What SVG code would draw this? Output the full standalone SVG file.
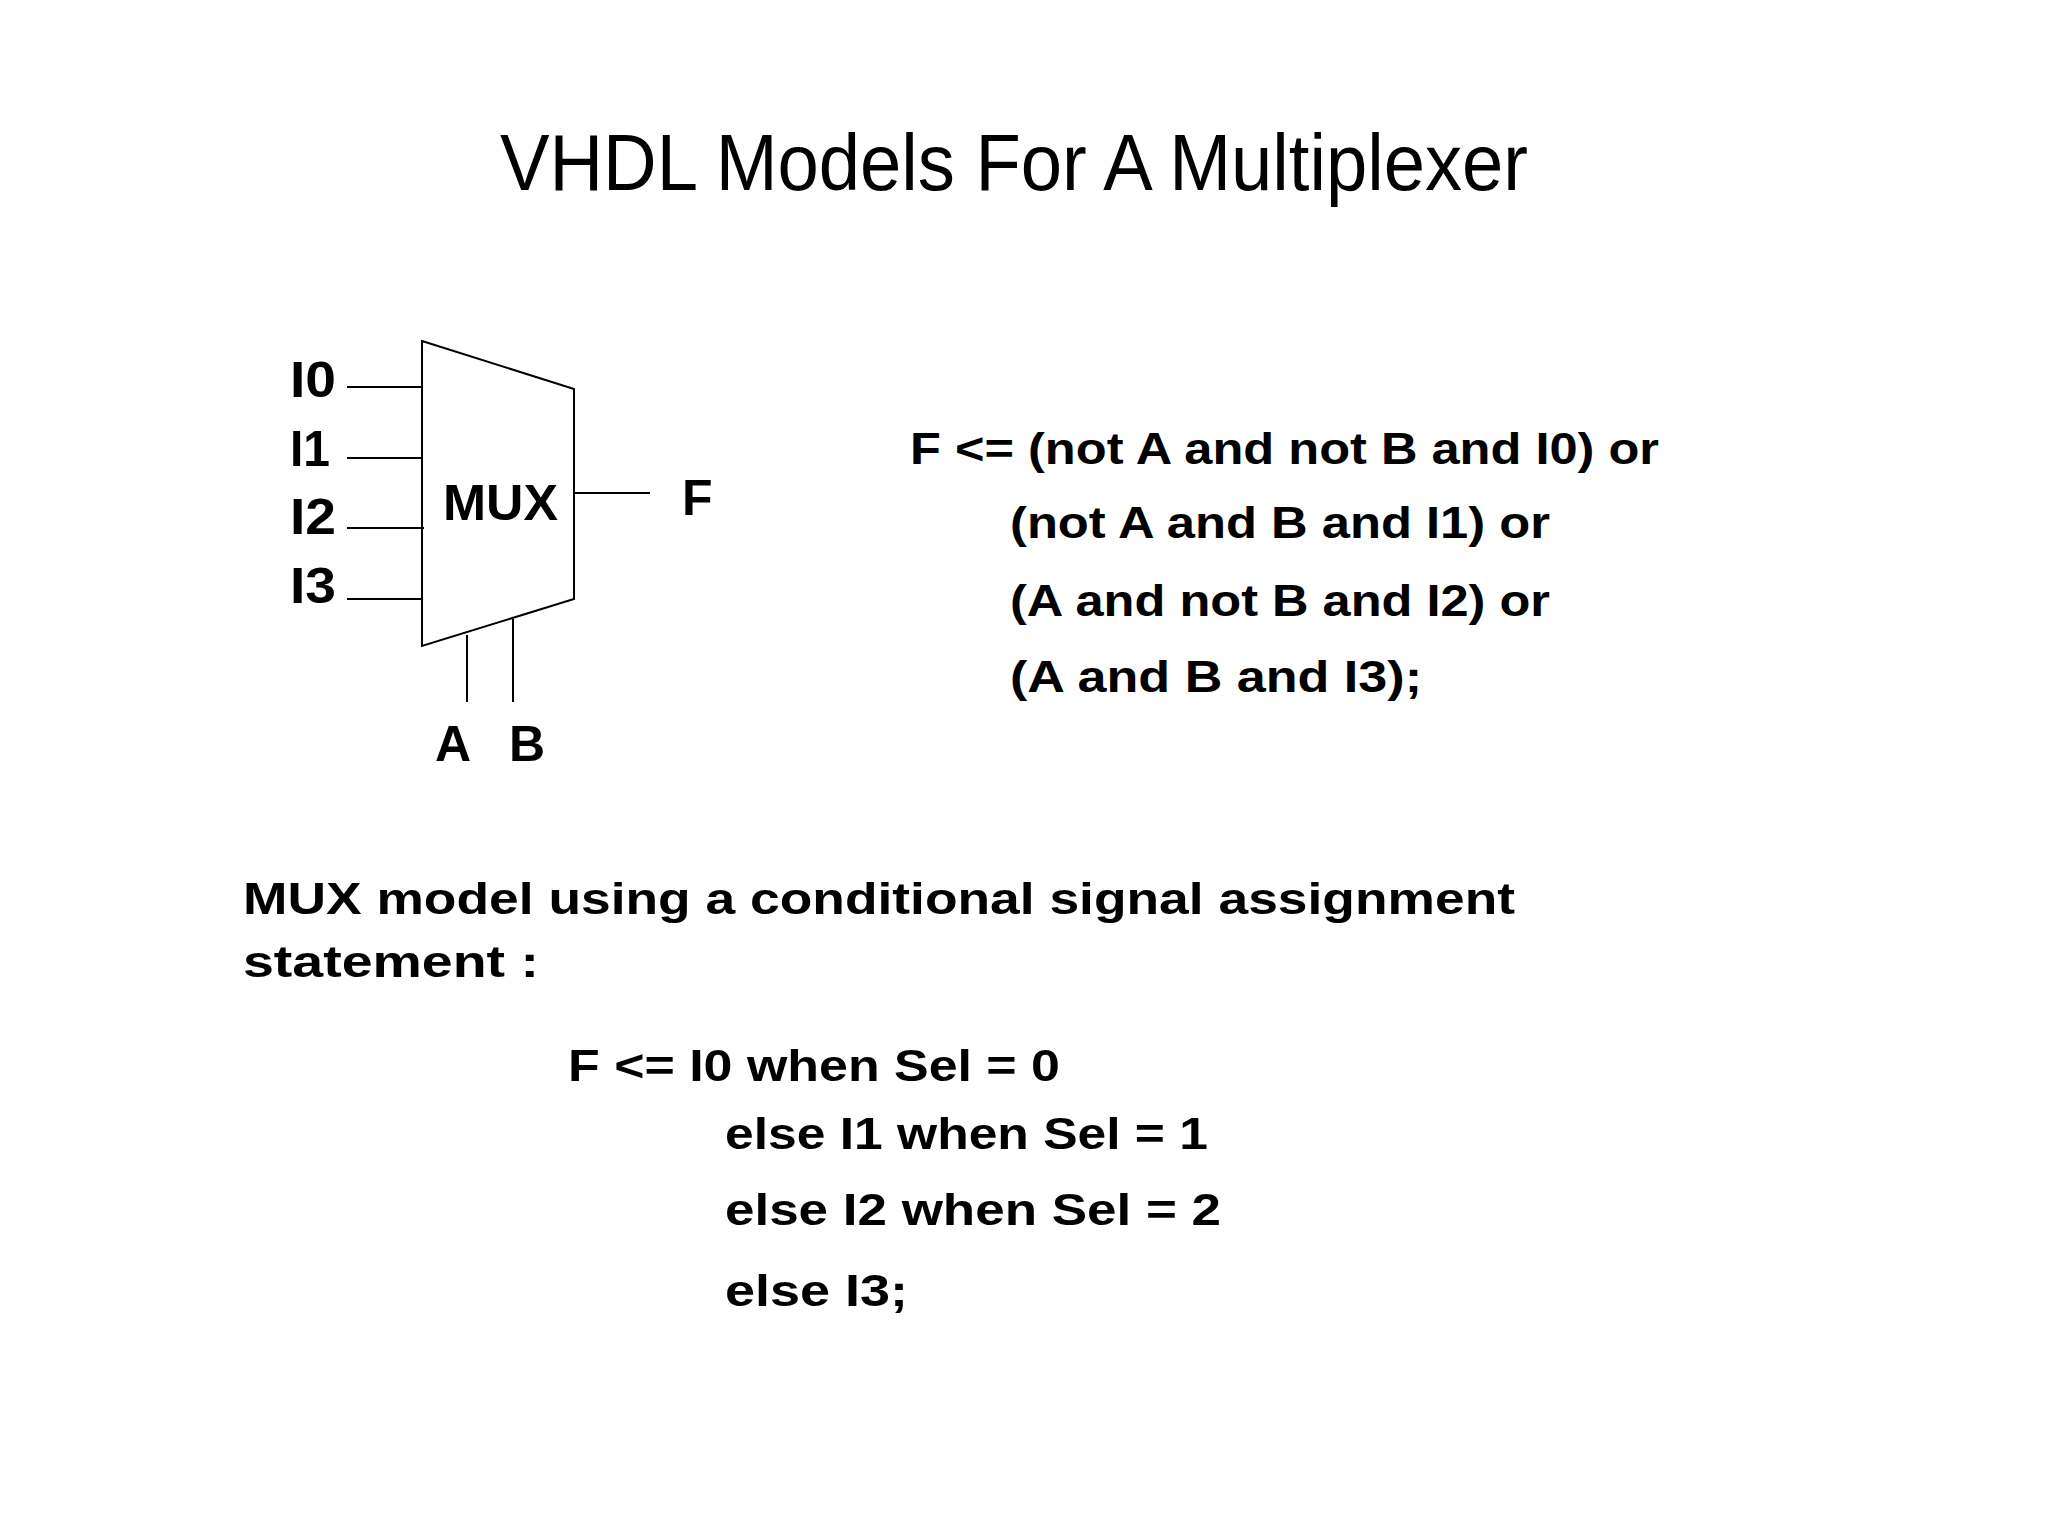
<svg xmlns="http://www.w3.org/2000/svg" width="2048" height="1536" viewBox="0 0 2048 1536">
<style>
.t{font-family:"Liberation Sans",Arial,sans-serif;font-weight:bold;fill:#000}
.w{stroke:#000;stroke-width:2;fill:none}
</style>
<rect width="2048" height="1536" fill="#fff"/>
<text class="t" x="500" y="190" font-size="80" font-weight="normal" textLength="1028" lengthAdjust="spacingAndGlyphs" style="font-weight:normal">VHDL Models For  A Multiplexer</text>
<g id="mux">
<polygon class="w" points="422,341 574,389 574,599 422,646" fill="#fff"/>
<text class="t" x="443" y="520" font-size="50" textLength="115" lengthAdjust="spacingAndGlyphs">MUX</text>
</g>
<g id="labels">
<text class="t" x="290" y="397" font-size="50" textLength="46" lengthAdjust="spacingAndGlyphs">I0</text>
<text class="t" x="290" y="466" font-size="50" textLength="40" lengthAdjust="spacingAndGlyphs">I1</text>
<text class="t" x="290" y="534" font-size="50" textLength="46" lengthAdjust="spacingAndGlyphs">I2</text>
<text class="t" x="290" y="603" font-size="50" textLength="46" lengthAdjust="spacingAndGlyphs">I3</text>
<text class="t" x="682" y="515" font-size="50">F</text>
<text class="t" x="435" y="761" font-size="50">A</text>
<text class="t" x="509" y="761" font-size="50">B</text>
</g>
<g id="connectors">
<line class="w" x1="347" y1="387" x2="422" y2="387"/>
<line class="w" x1="347" y1="458" x2="422" y2="458"/>
<line class="w" x1="347" y1="528" x2="424" y2="528"/>
<line class="w" x1="347" y1="599" x2="422" y2="599"/>
<line class="w" x1="574" y1="493" x2="650" y2="493"/>
<line class="w" x1="467" y1="635" x2="467" y2="702"/>
<line class="w" x1="513" y1="619" x2="513" y2="702"/>
</g>
<g id="equations" font-size="44">
<text class="t" x="910" y="464" font-size="44" textLength="749" lengthAdjust="spacingAndGlyphs">F &lt;= (not A and not B and I0) or</text>
<text class="t" x="1010" y="538" font-size="44" textLength="540" lengthAdjust="spacingAndGlyphs">(not A and B and I1) or</text>
<text class="t" x="1010" y="616" font-size="44" textLength="540" lengthAdjust="spacingAndGlyphs">(A and not B and I2) or</text>
<text class="t" x="1010" y="692" font-size="44" textLength="412" lengthAdjust="spacingAndGlyphs">(A and B and  I3);</text>
</g>
<g id="desc">
<text class="t" x="243" y="914" font-size="45" textLength="1272" lengthAdjust="spacingAndGlyphs">MUX model using a conditional signal assignment</text>
<text class="t" x="243" y="977" font-size="45" textLength="296" lengthAdjust="spacingAndGlyphs">statement  :</text>
</g>
<g id="code">
<text class="t" x="568" y="1081" font-size="45" textLength="492" lengthAdjust="spacingAndGlyphs">F &lt;= I0 when Sel =  0</text>
<text class="t" x="725" y="1149" font-size="45" textLength="483" lengthAdjust="spacingAndGlyphs">else  I1 when Sel = 1</text>
<text class="t" x="725" y="1225" font-size="45" textLength="496" lengthAdjust="spacingAndGlyphs">else  I2 when Sel =  2</text>
<text class="t" x="725" y="1306" font-size="45" textLength="183" lengthAdjust="spacingAndGlyphs">else  I3;</text>
</g>
</svg>
